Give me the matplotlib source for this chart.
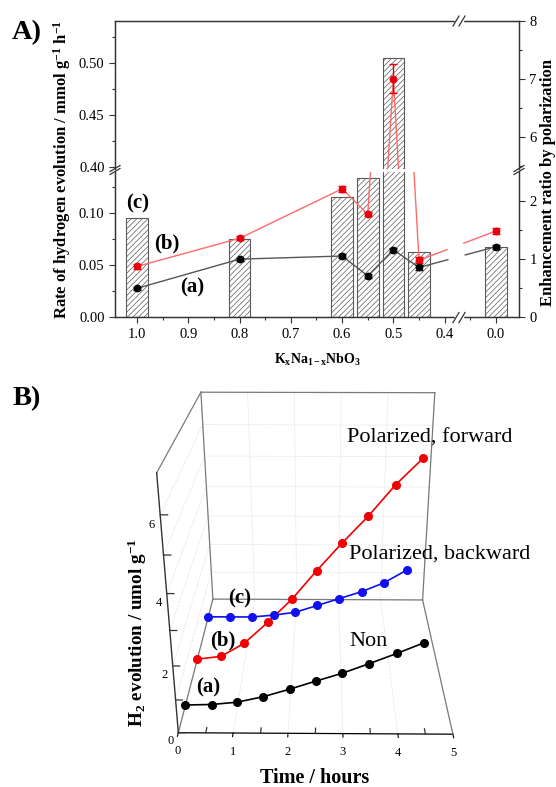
import numpy as np
import matplotlib
matplotlib.use('Agg')
import matplotlib.pyplot as plt
from matplotlib.lines import Line2D

plt.rcParams['font.family'] = 'serif'
plt.rcParams['font.serif'] = ['Liberation Serif', 'DejaVu Serif']
plt.rcParams['mathtext.fontset'] = 'custom'
plt.rcParams['mathtext.rm'] = 'Liberation Serif'
plt.rcParams['mathtext.it'] = 'Liberation Serif:italic'
plt.rcParams['mathtext.bf'] = 'Liberation Serif:bold'
plt.rcParams['hatch.linewidth'] = 0.5
plt.rcParams['axes.linewidth'] = 0.9

# ---- panel A data ----
composition = [1.0, 0.8, 0.6, 0.55, 0.5, 0.45, 0.0]
rate_non = [0.028, 0.056, 0.059, 0.040, 0.065, 0.048, 0.068]
rate_non_err = [0.0015, 0.0015, 0.002, 0.002, 0.002, 0.002, 0.002]
rate_pol = [0.049, 0.076, 0.1235, 0.099, 0.485, 0.055, 0.083]
rate_pol_err = [0.002, 0.002, 0.003, 0.002, 0.014, 0.003, 0.003]
ratio = [1.70, 1.34, 2.06, 2.39, 7.36, 1.12, 1.20]
x_ticks = [1.0, 0.9, 0.8, 0.7, 0.6, 0.5, 0.4, 0.0]
x_ticklabels = ['1.0', '0.9', '0.8', '0.7', '0.6', '0.5', '0.4', '0.0']

# ---- panel B data ----
time_h = [0.0, 0.5, 1.0, 1.5, 2.0, 2.5, 3.0, 3.5, 4.0, 4.5]
h2_non = [0.0, 0.02, 0.1, 0.28, 0.52, 0.78, 1.03, 1.33, 1.64, 1.97]
h2_forward = [0.0, 0.1, 0.55, 1.25, 2.0, 2.9, 3.75, 4.55, 5.45, 6.2]
h2_backward = [0.0, 0.0, 0.0, 0.07, 0.18, 0.43, 0.68, 0.93, 1.25, 1.7]
t_ticks = [0, 1, 2, 3, 4, 5]
t_minor = [0.5, 1.5, 2.5, 3.5, 4.5]
z_ticks = [0, 1, 2, 3, 4, 5, 6]
z_ticklabels = ['0', '', '2', '', '4', '', '6']

W, H = 556, 787
fig = plt.figure(figsize=(W / 100, H / 100), dpi=100)


def fx(px):
    return px / W


def fy(py):
    return 1 - py / H


# broken composition axis: 0.0 sits where 0.3 would be
def fwd(x):
    x = np.asarray(x, float)
    return np.where(x < 0.2, x + 0.3, x)


def inv(p):
    p = np.asarray(p, float)
    return np.where(p < 0.34, p - 0.3, p)


def half(top_px, bot_px, rate_lim, rate_major, rate_minor, ratio_lim, ratio_major, ratio_minor, bottom):
    ax = fig.add_axes([fx(115), fy(bot_px), fx(519) - fx(115), (bot_px - top_px) / H])
    axr = ax.twinx()
    ax.set_zorder(axr.get_zorder() + 1)
    ax.patch.set_visible(False)
    ax.set_xscale('function', functions=(fwd, inv))
    ax.set_xlim(1.043, -0.045)
    ax.set_ylim(*rate_lim)
    axr.set_ylim(*ratio_lim)

    axr.bar(composition, ratio, width=0.042, facecolor='white', edgecolor='#5a5a5a',
            hatch='//////', linewidth=0.8)

    ax.plot(composition[:6], rate_pol[:6], color='#ff6b6b', lw=1)
    ax.plot(composition[5:], rate_pol[5:], color='#ff6b6b', lw=1, ls=(0, (22, 12, 60, 1)))
    ax.plot(composition[:6], rate_non[:6], color='#555555', lw=1)
    ax.plot(composition[5:], rate_non[5:], color='#555555', lw=1, ls=(0, (22, 12, 60, 1)))
    ax.errorbar(composition, rate_pol, yerr=rate_pol_err, fmt='o', color='#e8000b', ms=4.6,
                capsize=3, elinewidth=1, capthick=1)
    ax.errorbar(composition, rate_non, yerr=rate_non_err, fmt='o', color='black', ms=4.6,
                capsize=3, elinewidth=1, capthick=1)

    ax.set_yticks(rate_major)
    ax.set_yticks(rate_minor, minor=True)
    ax.yaxis.set_major_formatter('{x:.2f}')
    axr.set_yticks(ratio_major)
    axr.set_yticks(ratio_minor, minor=True)
    ax.set_xticks(x_ticks, x_ticklabels)
    ax.set_xticks([0.95, 0.85, 0.75, 0.65, 0.55, 0.45, 0.05], minor=True)

    for a in (ax, axr):
        a.tick_params(which='both', direction='out', labelsize=10.5, color='#333333', width=0.8)
        a.tick_params(which='major', length=4)
        a.tick_params(which='minor', length=2.5)
        a.tick_params(axis='x', which='both', bottom=bottom, labelbottom=bottom, top=False)
        for s in a.spines.values():
            s.set_color('#333333')
        a.spines['top' if bottom else 'bottom'].set_visible(False)
    return ax, axr


top_ax, top_axr = half(21, 168.5, (0.399, 0.5402), [0.40, 0.45, 0.50], [0.425, 0.475, 0.525],
                       (5.457, 8.0), [6, 7, 8], [5.5, 6.5, 7.5], False)
bot_ax, bot_axr = half(171.5, 317.5, (0.0, 0.1401), [0.00, 0.05, 0.10], [0.025, 0.075, 0.125],
                       (0.0, 2.5), [0, 1, 2], [0.5, 1.5], True)


def slashes(cx, cy, horizontal):
    # two short "//" break marks, with the spine blanked between them
    if horizontal:
        fig.add_artist(Line2D([fx(cx - 3), fx(cx + 3)], [fy(cy), fy(cy)], color='white', lw=2.5))
        for dx in (-3, 3):
            fig.add_artist(Line2D([fx(cx + dx - 3), fx(cx + dx + 3)], [fy(cy + 5), fy(cy - 5)],
                                  color='#333333', lw=0.9))
    else:
        for dy in (-1.5, 1.5):
            fig.add_artist(Line2D([fx(cx - 5), fx(cx + 5)], [fy(cy + dy + 3), fy(cy + dy - 3)],
                                  color='#333333', lw=0.9))


slashes(115, 170, False)
slashes(519, 170, False)
slashes(459, 317.5, True)
slashes(459, 21, True)

fig.text(fx(27), fy(33), 'A)', fontsize=20.5, fontweight='bold', ha='center', va='center')
fig.text(fx(27), fy(399), 'B)', fontsize=20.5, fontweight='bold', ha='center', va='center')
fig.text(fx(62), fy(170), r'Rate of hydrogen evolution / mmol g$^{\mathbf{-1}}$ h$^{\mathbf{-1}}$',
         fontsize=12, fontweight='bold', rotation=90, ha='center', va='center')
fig.text(fx(548), fy(183), 'Enhancement ratio by polarization', fontsize=12, fontweight='bold',
         rotation=90, ha='center', va='center')
fig.text(fx(317), fy(360), r'$\mathbf{K_xNa_{1-x}NbO_3}$', fontsize=10, ha='center', va='center')
for s, px, py in [('(c)', 138, 203), ('(b)', 167, 243), ('(a)', 192, 287)]:
    fig.text(fx(px), fy(py), s, fontsize=15, fontweight='bold', ha='center', va='center')

# ---- panel B: perspective box ----
size = 420
cx, cy = 311, 555
axb = fig.add_axes([fx(cx - size / 2), fy(cy + size / 2), size / W, size / H], projection='3d')
axb.set_proj_type('persp', focal_length=0.37)
axb.view_init(elev=24.5, azim=-89.5)
axb.set_box_aspect((1, 1.04, 1), zoom=1.025)
axb.set_xlim(0, 5)
axb.set_ylim(0, 3)
axb.set_zlim(0, 7)

for axis in (axb.xaxis, axb.yaxis, axb.zaxis):
    axis.set_pane_color((1, 1, 1, 0))
    axis._axinfo['grid'].update(color='#e2e2e2', linewidth=0.5, linestyle='--')
    axis._axinfo['tick']['inward_factor'] = 0.25
    axis._axinfo['tick']['outward_factor'] = 0.0
    axis.label.set_visible(False)
    axis.offsetText.set_visible(False)
axb.set_xticks(t_ticks)
axb.set_yticks([])
axb.yaxis.line.set_color((1, 1, 1, 0))
axb.set_zticks(z_ticks, [])
axb.zaxis.line.set_color((1, 1, 1, 0))
axb.tick_params(axis='z', colors=(1, 1, 1, 0))
axb.tick_params(axis='x', labelsize=9, pad=-3)

# outline of the floor, back wall and left wall
edge = '#7a7a7a'
for xs, ys, zs in [([0, 0], [0, 3], [7, 7]), ([0, 0], [3, 3], [0, 7]), ([0, 0], [0, 3], [0, 0]),
                   ([0, 5], [3, 3], [7, 7]), ([5, 5], [3, 3], [0, 7]), ([0, 5], [3, 3], [0, 0]),
                   ([5, 5], [0, 3], [0, 0])]:
    axb.plot(xs, ys, zs, color=edge, lw=0.9)

# half-hour ticks on the time axis
for t in t_minor:
    axb.plot([t, t], [0, 0.09], [0, 0], color='#333333', lw=0.9)

# height axis drawn on the front-left edge
axb.plot([0, 0], [0, 0], [0, 7], color='#333333', lw=1)
for z, lab in zip(z_ticks, z_ticklabels):
    axb.plot([0, 0.12], [0, 0], [z, z], color='#333333', lw=0.9)
    if lab:
        axb.text(-0.1, 0, z - 0.25, lab, fontsize=9, ha='right', va='center')

for vals, depth, col in [(h2_non, 0.5, 'black'), (h2_forward, 1.45, '#f00000'), (h2_backward, 2.5, '#1010f0')]:
    axb.plot(time_h, [depth] * len(time_h), vals, color=col, marker='o', ms=5.5, lw=1.2)

fig.text(fx(430), fy(438), 'Polarized, forward', fontsize=16, ha='center', va='center')
fig.text(fx(440), fy(554), 'Polarized, backward', fontsize=16, ha='center', va='center')
fig.text(fx(368), fy(641), 'Non', fontsize=16, ha='center', va='center')
for s, px, py in [('(c)', 240, 598), ('(b)', 223, 640), ('(a)', 208, 687)]:
    fig.text(fx(px), fy(py), s, fontsize=15, fontweight='bold', ha='center', va='center')
fig.text(fx(315), fy(778), 'Time / hours', fontsize=14.5, fontweight='bold', ha='center', va='center')
fig.text(fx(137), fy(633), r'$\mathbf{H_2}$ evolution / umol g$^{\mathbf{-1}}$', fontsize=13.75,
         fontweight='bold', rotation=90, ha='center', va='center')

fig.savefig('out.png', dpi=100)
